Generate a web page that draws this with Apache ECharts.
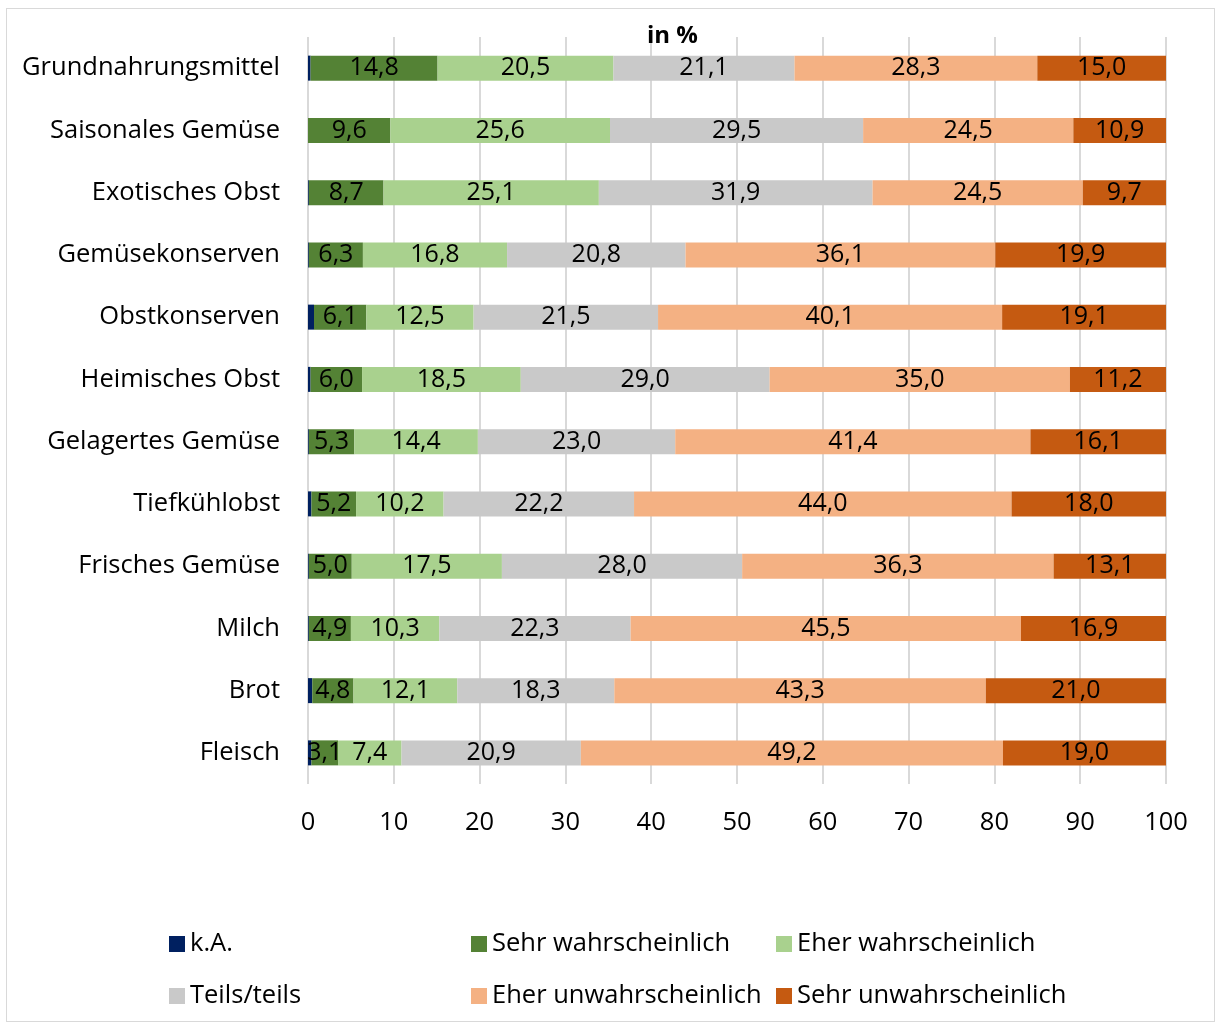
<!DOCTYPE html>
<html><head><meta charset="utf-8">
<script src="https://cdn.jsdelivr.net/npm/echarts@6/dist/echarts.min.js"></script>
<style>html,body{margin:0;padding:0;background:#fff}#c{width:1217px;height:1025px}
#frame{position:absolute;left:6px;top:8px;width:1209px;height:1014px;border:1px solid #d9d9d9;box-sizing:border-box;pointer-events:none}</style>
</head><body><div id="c"></div><div id="frame"></div>
<script>
const categories = ["Grundnahrungsmittel","Saisonales Gemüse","Exotisches Obst","Gemüsekonserven","Obstkonserven","Heimisches Obst","Gelagertes Gemüse","Tiefkühlobst","Frisches Gemüse","Milch","Brot","Fleisch"];
const seriesNames = ["k.A.","Sehr wahrscheinlich","Eher wahrscheinlich","Teils/teils","Eher unwahrscheinlich","Sehr unwahrscheinlich"];
const kA = [0.3,0.0,0.1,0.1,0.7,0.3,0.1,0.4,0.1,0.1,0.5,0.4];
const sehrW = [14.8,9.6,8.7,6.3,6.1,6.0,5.3,5.2,5.0,4.9,4.8,3.1];
const eherW = [20.5,25.6,25.1,16.8,12.5,18.5,14.4,10.2,17.5,10.3,12.1,7.4];
const teils = [21.1,29.5,31.9,20.8,21.5,29.0,23.0,22.2,28.0,22.3,18.3,20.9];
const eherU = [28.3,24.5,24.5,36.1,40.1,35.0,41.4,44.0,36.3,45.5,43.3,49.2];
const sehrU = [15.0,10.9,9.7,19.9,19.1,11.2,16.1,18.0,13.1,16.9,21.0,19.0];
const xTicks = [0,10,20,30,40,50,60,70,80,90,100];
const colors = ["#002060","#548235","#A9D18E","#C9C9C9","#F4B183","#C55A11"];
const values = [kA,sehrW,eherW,teils,eherU,sehrU];
const FONT = "'Open Sans', sans-serif";

const chart = echarts.init(document.getElementById('c'));
const series = values.map((arr,i)=>({
  name: seriesNames[i], type:'bar', stack:'all', barWidth:25,
  itemStyle:{color:colors[i]},
  data: arr,
  label: i===0 ? {show:false} : {show:true, position:'inside', color:'#000', fontFamily:FONT, fontSize:25,
    padding:[4,0,0,0],
    formatter: p => p.value.toFixed(1).replace('.',',')}
}));
const legendBase = {orient:'vertical', top:926, itemWidth:16, itemHeight:16, itemGap:26, icon:'rect',
  textStyle:{fontFamily:FONT, fontSize:25.5, color:'#000', padding:[0,0,0,0]}};
chart.setOption({
  animation:false,
  title:{text:'in %', left:642, top:19, textStyle:{fontFamily:FONT, fontSize:24, fontWeight:'bold', color:'#000'}},
  grid:{left:308, top:37, width:858, height:747, containLabel:false},
  xAxis:{type:'value', min:0, max:100, interval:10,
    axisLine:{show:false}, axisTick:{show:false},
    splitLine:{show:true, lineStyle:{color:'#d9d9d9', width:2}},
    axisLabel:{fontFamily:FONT, fontSize:25.5, color:'#000', margin:26,
      formatter: v => xTicks.includes(v) ? String(v) : ''}},
  yAxis:{type:'category', data:categories, inverse:true,
    axisLine:{show:false}, axisTick:{show:false},
    axisLabel:{fontFamily:FONT, fontSize:25.5, color:'#000', margin:28, padding:[3,0,0,0]}},
  legend:[
    Object.assign({}, legendBase, {left:164, data:[seriesNames[0], seriesNames[3]]}),
    Object.assign({}, legendBase, {left:466, data:[seriesNames[1], seriesNames[4]]}),
    Object.assign({}, legendBase, {left:771, data:[seriesNames[2], seriesNames[5]]})
  ],
  series
});
</script></body></html>
